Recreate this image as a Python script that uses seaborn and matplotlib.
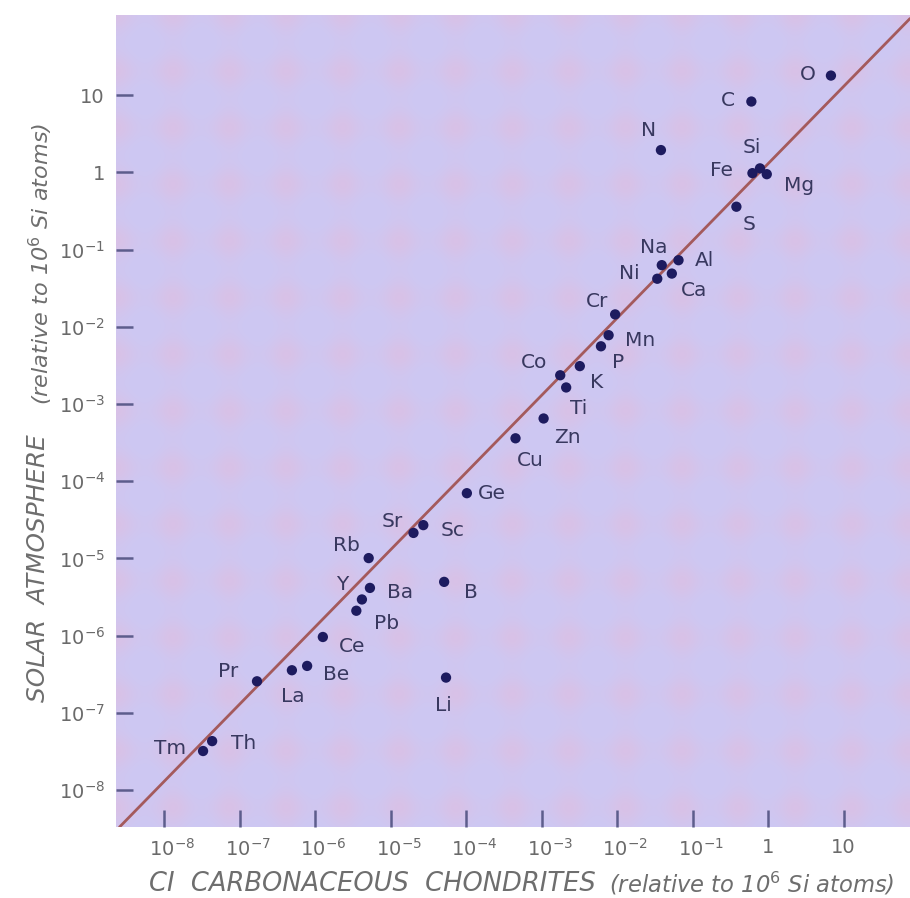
import numpy as np
import pandas as pd
import seaborn as sns
import matplotlib.pyplot as plt
from matplotlib.colors import to_rgb
from matplotlib.transforms import ScaledTranslation

# values (relative to 10^6 Si atoms)
elements = ['O', 'C', 'N', 'Si', 'Fe', 'Mg', 'S', 'Na', 'Ni', 'Al', 'Ca',
            'Cr', 'Mn', 'P', 'K', 'Co', 'Ti', 'Zn', 'Cu', 'Ge', 'Sr', 'Sc',
            'Rb', 'Ba', 'Y', 'Pb', 'B', 'Ce', 'Be', 'La', 'Pr', 'Li', 'Th', 'Tm']
chondrites = [6.8, 0.60, 0.038, 0.78, 0.62, 0.96, 0.38, 0.039, 0.034, 0.065, 0.053,
              9.4e-3, 7.7e-3, 6.1e-3, 3.2e-3, 1.76e-3, 2.11e-3, 1.06e-3, 4.5e-4, 1.02e-4, 2.0e-5, 2.7e-5,
              5.1e-6, 5.3e-6, 4.15e-6, 3.5e-6, 5.1e-5, 1.26e-6, 7.8e-7, 4.9e-7, 1.69e-7, 5.4e-5, 4.3e-8, 3.26e-8]
solar = [18, 8.3, 1.95, 1.13, 0.98, 0.95, 0.36, 0.063, 0.042, 0.073, 0.049,
         1.45e-2, 7.8e-3, 5.6e-3, 3.1e-3, 2.36e-3, 1.64e-3, 6.5e-4, 3.6e-4, 7.0e-5, 2.14e-5, 2.7e-5,
         1.01e-5, 4.15e-6, 2.94e-6, 2.1e-6, 4.97e-6, 9.6e-7, 4.05e-7, 3.56e-7, 2.56e-7, 2.86e-7, 4.3e-8, 3.2e-8]
x_ticks = [1e-8, 1e-7, 1e-6, 1e-5, 1e-4, 1e-3, 1e-2, 1e-1, 1, 10]
y_ticks = [1e-8, 1e-7, 1e-6, 1e-5, 1e-4, 1e-3, 1e-2, 1e-1, 1, 10]
tick_text = ['$10^{-8}$', '$10^{-7}$', '$10^{-6}$', '$10^{-5}$', '$10^{-4}$',
             '$10^{-3}$', '$10^{-2}$', '$10^{-1}$', '1', '10']

# label offsets in points (layout only)
offsets = {'O': (-17, 1), 'C': (-17, 1), 'N': (-9, 14), 'Si': (-6, 15), 'Fe': (-22, 2),
           'Mg': (23, -8), 'S': (9, -13), 'Na': (-6, 13), 'Ni': (-20, 4), 'Al': (19, 0),
           'Ca': (16, -12), 'Cr': (-13, 9), 'Mn': (23, -4), 'P': (12, -12), 'K': (12, -12),
           'Co': (-19, 9), 'Ti': (9, -15), 'Zn': (17, -14), 'Cu': (11, -16), 'Ge': (18, 0),
           'Sr': (-15, 8), 'Sc': (21, -4), 'Rb': (-16, 9), 'Ba': (22, -3), 'Y': (-14, 11),
           'Pb': (22, -9), 'B': (19, -8), 'Ce': (21, -7), 'Be': (21, -6), 'La': (1, -19),
           'Pr': (-21, 7), 'Li': (-2, -20), 'Th': (23, -2), 'Tm': (-24, 2)}

df = pd.DataFrame({'element': elements, 'chondrites': chondrites, 'solar': solar})

sns.set_style('white')
plt.rcParams['font.family'] = ['DejaVu Sans']
plt.rcParams['mathtext.fontset'] = 'dejavusans'

fig = plt.figure(figsize=(9.1, 8.98), dpi=100)
ax = fig.add_axes([0.1275, 0.079, 0.8725, 0.9043])

# lavender screen-print background
h, w = 812, 794
yy, xx = np.mgrid[0:h, 0:w]
u = (xx + yy) / np.sqrt(2)
v = (xx - yy) / np.sqrt(2)
t = 0.5 + 0.5 * np.cos(2 * np.pi * u / 80) * np.cos(2 * np.pi * v / 80)
t = t ** 2 * 0.8
base = np.array(to_rgb('#cdc8f3'))
pink = np.array(to_rgb('#dbc0e4'))
tex = base[None, None, :] * (1 - t[..., None]) + pink[None, None, :] * t[..., None]
ax.imshow(tex, extent=[0, 1, 0, 1], transform=ax.transAxes, aspect='auto', zorder=0)

ax.set_xscale('log')
ax.set_yscale('log')
ax.set_xlim(10 ** -8.64, 10 ** 1.88)
ax.set_ylim(10 ** -8.48, 10 ** 2.04)

ax.axline((1e-8, 1.3e-8), (1, 1.3), color='#a45a5c', lw=2, zorder=2)

sns.scatterplot(data=df, x='chondrites', y='solar', ax=ax, color='#1d1b5f',
                s=55, edgecolor='none', zorder=3, legend=False)

for el, xv, yv in zip(elements, chondrites, solar):
    dx, dy = offsets[el]
    ax.annotate(el, (xv, yv), xytext=(dx, dy), textcoords='offset points',
                ha='center', va='center', fontsize=14.5, color='#38385f', zorder=4)

for s in ax.spines.values():
    s.set_visible(False)
ax.set_xticks(x_ticks)
ax.set_xticklabels(tick_text)
ax.set_yticks(y_ticks)
ax.set_yticklabels(tick_text)
ax.minorticks_off()
ax.tick_params(axis='both', direction='in', length=12, width=1.8, color='#5d5d8c',
               labelcolor='#6a6a6a', labelsize=14, bottom=True, left=True)
ax.tick_params(axis='x', pad=8)
ax.tick_params(axis='y', pad=8)
# keep the "10" of each power label centred on its tick
for lab, txt in zip(ax.get_xticklabels(), tick_text):
    if txt.startswith('$'):
        lab.set_transform(lab.get_transform() + ScaledTranslation(8 / 100, 0, fig.dpi_scale_trans))
ax.set_xlabel('')
ax.set_ylabel('')

fig.text(0.164, 0.016, 'CI  CARBONACEOUS  CHONDRITES', fontsize=18.5, style='italic',
         color='#6e6e6e', ha='left', va='center')
fig.text(0.669, 0.016, '(relative to 10$^{6}$ Si atoms)', fontsize=16.3, style='italic',
         color='#6e6e6e', ha='left', va='center')
fig.text(0.029, 0.218, 'SOLAR  ATMOSPHERE', fontsize=17.8, style='italic', rotation=90,
         color='#6e6e6e', ha='left', va='bottom')
fig.text(0.029, 0.549, '(relative to 10$^{6}$ Si atoms)', fontsize=16.1, style='italic',
         rotation=90, color='#6e6e6e', ha='left', va='bottom')

fig.savefig('out.png', dpi=100)
